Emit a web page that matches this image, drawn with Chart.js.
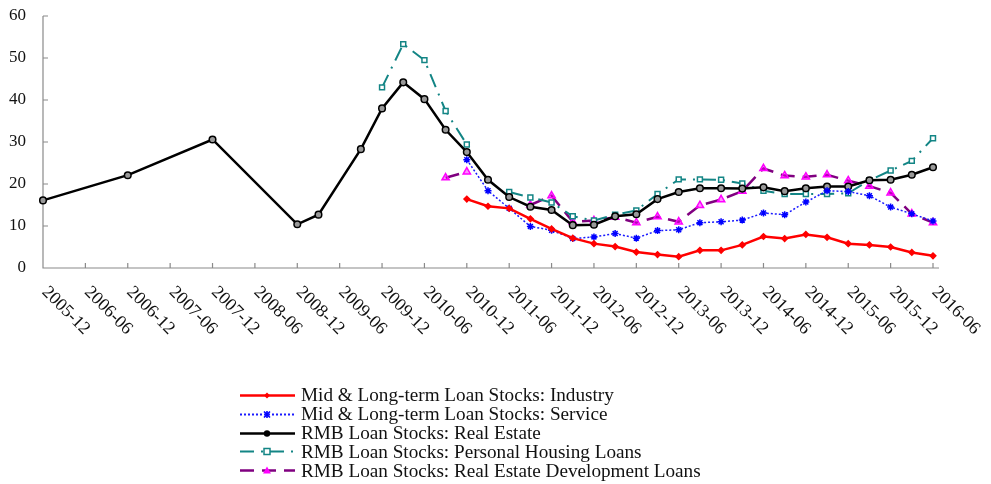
<!DOCTYPE html>
<html>
<head>
<meta charset="utf-8">
<script src="https://cdn.jsdelivr.net/npm/chart.js@4.4.1/dist/chart.umd.min.js"></script>
<style>
  html, body { margin: 0; padding: 0; background: #fff; }
  #wrap { position: relative; width: 991px; height: 484px; }
  #legend { position: absolute; left: 238px; top: 386px; font-family: "Liberation Serif", serif; font-size: 19.2px; color: #111; }
  .row { height: 18.8px; display: flex; align-items: center; white-space: nowrap; }
  .row svg { margin-right: 5px; }
</style>
</head>
<body>
<div id="wrap">
  <canvas id="chart" width="991" height="484"></canvas>
  <div id="legend"></div>
</div>
<script>
// quarterly categories, a tick label every second one
const quarters = [
  "2005-12", "2006-03", "2006-06", "2006-09", "2006-12", "2007-03", "2007-06", "2007-09",
  "2007-12", "2008-03", "2008-06", "2008-09", "2008-12", "2009-03", "2009-06", "2009-09",
  "2009-12", "2010-03", "2010-06", "2010-09", "2010-12", "2011-03", "2011-06", "2011-09",
  "2011-12", "2012-03", "2012-06", "2012-09", "2012-12", "2013-03", "2013-06", "2013-09",
  "2013-12", "2014-03", "2014-06", "2014-09", "2014-12", "2015-03", "2015-06", "2015-09",
  "2015-12", "2016-03", "2016-06"
];
const tickLabels = quarters.filter((q, i) => i % 2 === 0);
const yTicks = [0, 10, 20, 30, 40, 50, 60];

const N = null;
const industry = [
  N, N, N, N, N, N, N, N, N, N, N, N, N, N, N, N, N, N, N, N,
  16.4, 14.7, 14.2, 11.7, 9.3, 7.1, 5.8, 5.1, 3.8, 3.2, 2.7, 4.2, 4.2, 5.5, 7.5, 7.0,
  8.0, 7.3, 5.8, 5.5, 5.0, 3.7, 2.9
];
const service = [
  N, N, N, N, N, N, N, N, N, N, N, N, N, N, N, N, N, N, N, N,
  25.8, 18.4, 14.2, 9.9, 9.0, 7.0, 7.4, 8.2, 7.1, 8.9, 9.1, 10.8, 11.0, 11.4, 13.1, 12.7,
  15.7, 18.4, 18.2, 17.2, 14.5, 12.9, 11.2
];
const realEstate = [
  16.1, N, N, N, 22.1, N, N, N, 30.6, N, N, N, 10.4, 12.7, N, 28.3,
  38.0, 44.2, 40.2, 32.9, 27.6, 21.0, 16.9, 14.6, 13.8, 10.2, 10.3, 12.3, 12.8, 16.4, 18.1, 19.0,
  19.0, 18.9, 19.2, 18.3, 19.0, 19.4, 19.4, 20.9, 21.0, 22.2, 24.0
];
const housing = [
  N, N, N, N, N, N, N, N, N, N, N, N, N, N, N, N,
  43.0, 53.3, 49.5, 37.4, 29.4, N, 18.1, 16.8, 15.6, 12.3, 11.3, 12.7, 13.7, 17.6, 21.1, 21.1,
  21.0, 20.1, 18.4, 17.6, 17.6, 17.6, 17.8, 20.9, 23.2, 25.5, 30.9
];
const development = [
  N, N, N, N, N, N, N, N, N, N, N, N, N, N, N, N, N, N, N,
  21.5, 22.9, N, N, 15.0, 17.2, 11.0, 11.3, 12.1, 10.8, 12.2, 11.0, 14.9, 16.3, 18.3, 23.7,
  22.0, 21.7, 22.2, 20.8, 19.5, 17.9, 12.9, 10.8
];

const FONT = '"Liberation Serif", "Times New Roman", serif';

const series = [
  { label: "Mid & Long-term Loan Stocks: Industry", data: industry, color: "#ff0000", width: 2.5, dash: [],
    point: "rectRot", radius: 2.8, fill: "#ff0000", pcolor: "#ff0000", span: false },
  { label: "Mid & Long-term Loan Stocks: Service", data: service, color: "#1a1aff", width: 1.5, dash: [2, 2],
    point: "star", radius: 3.5, fill: "#0000ff", pcolor: "#0000ff", span: false },
  { label: "RMB Loan Stocks: Real Estate", data: realEstate, color: "#000000", width: 2.5, dash: [],
    point: "circle", radius: 3.3, fill: "#999999", pcolor: "#000000", span: true },
  { label: "RMB Loan Stocks: Personal Housing Loans", data: housing, color: "#138585", width: 2, dash: [14, 7, 2, 7],
    point: "rect", radius: 3.5, fill: "#ffffff", pcolor: "#138585", span: false },
  { label: "RMB Loan Stocks: Real Estate Development Loans", data: development, color: "#800080", width: 2.5, dash: [14, 8],
    point: "triangle", radius: 4.2, fill: "rgba(255,0,255,0.45)", pcolor: "#ff00ff", span: false }
];

// axis lines, inside ticks and slanted date labels
const axesPlugin = {
  id: "axesPlugin",
  beforeDatasetsDraw(chart) {
    const ctx = chart.ctx;
    const x = chart.scales.x, y = chart.scales.y;
    const a = chart.chartArea;
    ctx.save();
    ctx.strokeStyle = "#8a8a8a";
    ctx.lineWidth = 1.2;
    ctx.beginPath();
    ctx.moveTo(a.left, a.top);
    ctx.lineTo(a.left, a.bottom);
    ctx.lineTo(a.right + 6, a.bottom);
    yTicks.forEach(v => {
      const py = y.getPixelForValue(v);
      ctx.moveTo(a.left, py);
      ctx.lineTo(a.left + 5, py);
    });
    quarters.forEach((q, i) => {
      if (i % 2) return;
      const px = x.getPixelForValue(i);
      ctx.moveTo(px, a.bottom);
      ctx.lineTo(px, a.bottom - 5);
    });
    ctx.stroke();
    ctx.restore();
  },
  afterDraw(chart) {
    const ctx = chart.ctx;
    const x = chart.scales.x;
    const a = chart.chartArea;
    ctx.save();
    ctx.fillStyle = "#111";
    ctx.font = "18px " + FONT;
    ctx.textAlign = "left";
    ctx.textBaseline = "top";
    quarters.forEach((q, i) => {
      if (i % 2) return;
      ctx.save();
      ctx.translate(x.getPixelForValue(i) + 8, a.bottom + 15);
      ctx.rotate(Math.PI / 4);
      ctx.fillText(tickLabels[i / 2], 0, 0);
      ctx.restore();
    });
    ctx.restore();
  }
};

new Chart("chart", {
  type: "line",
  data: {
    labels: quarters,
    datasets: series.map(s => ({
      label: s.label,
      data: s.data,
      borderColor: s.color,
      borderWidth: s.width,
      borderDash: s.dash,
      pointStyle: s.point,
      pointRadius: s.radius,
      pointBackgroundColor: s.fill,
      pointBorderColor: s.pcolor,
      pointBorderWidth: 1.5,
      spanGaps: s.span,
      tension: 0,
      fill: false
    }))
  },
  options: {
    responsive: false,
    animation: false,
    layout: { padding: { top: 16, right: 58, left: 0, bottom: 0 } },
    plugins: { legend: { display: false }, tooltip: { enabled: false } },
    scales: {
      x: {
        type: "category",
        offset: false,
        grid: { display: false },
        border: { display: false },
        ticks: { display: false },
        afterFit: s => { s.height = 216; s.paddingLeft = 0; s.paddingRight = 0; }
      },
      y: {
        min: 0, max: 60,
        grid: { display: false, drawTicks: false },
        border: { display: false },
        ticks: { stepSize: 10, padding: 17, color: "#111", font: { family: FONT, size: 17 } },
        afterFit: s => { s.width = 43; s.paddingTop = 0; s.paddingBottom = 0; }
      }
    }
  },
  plugins: [axesPlugin]
});

// legend as html rows
const legend = document.getElementById("legend");
series.forEach(s => {
  const row = document.createElement("div");
  row.className = "row";
  const dash = s.dash.length ? s.dash.join(" ") : "none";
  let mark = "";
  const cx = 29, cy = 9.5;
  if (s.point === "rectRot") mark = `<polygon points="${cx},${cy - 3} ${cx + 3},${cy} ${cx},${cy + 3} ${cx - 3},${cy}" fill="${s.fill}"/>`;
  if (s.point === "star") mark = `<path d="M${cx - 3} ${cy - 3}L${cx + 3} ${cy + 3}M${cx + 3} ${cy - 3}L${cx - 3} ${cy + 3}M${cx} ${cy - 3.5}V${cy + 3.5}" stroke="${s.pcolor}" stroke-width="1.6"/>`;
  if (s.point === "circle") mark = `<circle cx="${cx}" cy="${cy}" r="3.2" fill="${s.pcolor}"/>`;
  if (s.point === "rect") mark = `<rect x="${cx - 3}" y="${cy - 3}" width="6" height="6" fill="#fff" stroke="${s.pcolor}" stroke-width="1.5"/>`;
  if (s.point === "triangle") mark = `<polygon points="${cx},${cy - 4} ${cx + 4},${cy + 3} ${cx - 4},${cy + 3}" fill="${s.pcolor}"/>`;
  row.innerHTML = `<svg width="58" height="19"><line x1="2" y1="${cy}" x2="57" y2="${cy}" stroke="${s.color}" stroke-width="${Math.max(s.width, 2)}" stroke-dasharray="${dash}"/>${mark}</svg><span>${s.label}</span>`;
  legend.appendChild(row);
});
</script>
</body>
</html>
